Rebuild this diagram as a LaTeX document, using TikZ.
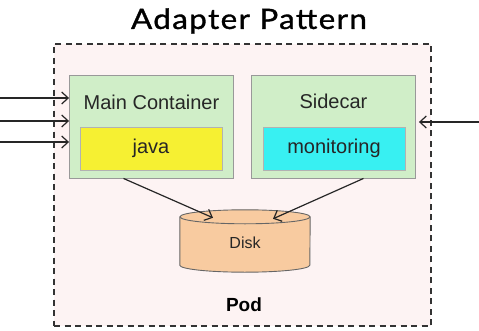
\documentclass[tikz,border=0pt]{standalone}
\usepackage{fontspec}
\setmainfont{Liberation Sans}
\newfontfamily\titlefont[LetterSpace=5, FakeStretch=1.12, FakeBold=1.2]{Lato}
\usepackage{xcolor}
\definecolor{PodPink}{RGB}{253, 243, 243}
\definecolor{BoxGreen}{RGB}{208, 238, 200}
\definecolor{JavaYellow}{RGB}{246, 240, 50}
\definecolor{MonCyan}{RGB}{56, 240, 242}
\definecolor{DiskOrange}{RGB}{248, 203, 160}
\usepackage{tikz}
\usetikzlibrary{arrows.meta, positioning, calc}

\begin{document}
\begin{tikzpicture}[
        x=1pt, y=1pt,
        podbox/.style={rectangle, draw=black!80, dash pattern=on 6pt off 4.5pt, line width=1.4pt, fill=PodPink, minimum width=377pt, minimum height=282pt},
        container/.style={rectangle, draw=gray!80, line width=0.9pt, fill=BoxGreen, minimum width=164pt, minimum height=103pt},
        app/.style={rectangle, draw=gray!60, line width=0.9pt, minimum width=142pt, minimum height=43pt, font=\fontsize{20}{22}\selectfont, text=black!85},
        caption/.style={font=\fontsize{20}{22}\selectfont, text=black!85},
        flow/.style={-{Straight Barb[length=6.5pt, width=12pt]}, line width=1.2pt, black!85}
    ]
        \useasboundingbox (0,0) rectangle (479,330);

        \node[font=\titlefont\fontsize{28}{30}\selectfont] (title) at (249,309) {Adapter Pattern};
        \node[podbox] (pod) at (242.5,145) {};
        \node[font=\bfseries\fontsize{19}{22}\selectfont] (podlabel) at (244,25) {Pod};

        \node[container] (main) at (151.5,203.5) {};
        \node[container] (side) at (333.5,203.5) {};
        \node[caption] (maintext) at (151.5,228) {Main Container};
        \node[caption] (sidetext) at (333.5,229) {Sidecar};
        \node[app, fill=JavaYellow] (java) at (151,181.5) {java};
        \node[app, fill=MonCyan] (mon) at (334,181.5) {monitoring};

        % disk drawn as a cylinder round an empty node
        \node[minimum width=130pt, minimum height=48pt] (disk) at (245,89) {};
        \fill[DiskOrange] (disk.north west) -- (disk.south west) arc[start angle=180, end angle=360, x radius=65, y radius=7] -- (disk.north east) arc[start angle=0, end angle=180, x radius=65, y radius=7] -- cycle;
        \draw[black!60, line width=0.9pt] (disk.north west) -- (disk.south west) arc[start angle=180, end angle=360, x radius=65, y radius=7] -- (disk.north east);
        \draw[black!60, line width=0.9pt, fill=DiskOrange] (disk.north) ellipse[x radius=65, y radius=7];
        \node[font=\fontsize{16}{18}\selectfont, text=black!85] (disktext) at (245,87) {Disk};

        \coordinate (in1) at (0,232);
        \coordinate (in2) at (0,209);
        \coordinate (in3) at (0,188);
        \coordinate (in4) at (479,208);

        \draw[flow] (in1) -- (in1 -| main.west);
        \draw[flow] (in2) -- (in2 -| main.west);
        \draw[flow] (in3) -- (in3 -| main.west);
        \draw[flow] (in4) -- ([xshift=3pt]in4 -| side.east);

        \draw[flow] ([xshift=-28pt]main.south) -- ([xshift=-32pt, yshift=-1pt]disk.north);
        \draw[flow] ([xshift=30pt]side.south) -- ([xshift=28pt, yshift=-2pt]disk.north);
    \end{tikzpicture}
\end{document}
